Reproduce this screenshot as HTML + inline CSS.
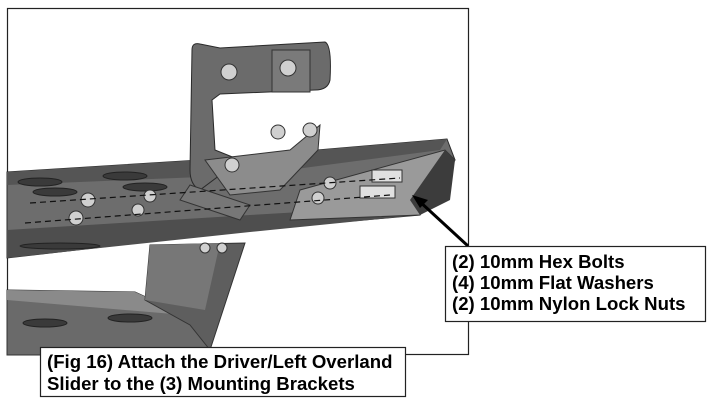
<!DOCTYPE html>
<html><head><style>
html,body{margin:0;padding:0;background:#fff;}
svg{display:block;}
text{font-family:"Liberation Sans",Arial,sans-serif;font-weight:bold;font-size:18.6px;fill:#000;}
</style></head><body>
<svg width="713" height="403" viewBox="0 0 713 403" xmlns="http://www.w3.org/2000/svg">
<rect x="0" y="0" width="713" height="403" fill="#fff"/>
<rect x="7.5" y="8.5" width="461" height="346" fill="#fff" stroke="#222" stroke-width="1.2"/>
<!-- lower step -->
<polygon points="7,290 135,292 185,315 210,330 210,355 7,355" fill="#6a6a6a" stroke="#333"/>
<polygon points="7,290 135,292 185,315 7,300" fill="#8a8a8a"/>
<polygon points="150,245 245,243 210,350 190,325 145,300" fill="#5e5e5e" stroke="#333"/>
<polygon points="150,245 220,243 205,310 145,300" fill="#777"/>
<!-- rail body -->
<polygon points="7,172 200,160 447,139 455,160 420,215 250,230 7,258" fill="#6d6d6d" stroke="#2a2a2a"/>
<polygon points="7,172 200,160 447,139 440,150 250,175 7,185" fill="#555"/>
<polygon points="7,230 250,215 420,205 420,215 250,232 7,258" fill="#4e4e4e"/>
<polygon points="300,190 445,150 455,160 420,215 290,220" fill="#9a9a9a" stroke="#333"/>
<polygon points="410,200 445,150 455,160 450,200 420,215" fill="#3c3c3c"/>
<!-- slots -->
<g fill="#3a3a3a" stroke="#222">
<ellipse cx="40" cy="182" rx="22" ry="4"/><ellipse cx="125" cy="176" rx="22" ry="4"/>
<ellipse cx="55" cy="192" rx="22" ry="4"/><ellipse cx="145" cy="187" rx="22" ry="4"/>
<ellipse cx="45" cy="323" rx="22" ry="4"/><ellipse cx="130" cy="318" rx="22" ry="4"/>
<ellipse cx="60" cy="246" rx="40" ry="3"/>
</g>
<!-- top bracket -->
<path d="M192,50 Q192,42 200,44 L220,48 L325,42 Q332,45 330,80 Q328,90 315,90 L220,94 L212,100 L215,150 L240,160 L200,190 Q190,185 190,170 Z" fill="#6b6b6b" stroke="#2a2a2a"/>
<rect x="272" y="50" width="38" height="42" fill="#7a7a7a" stroke="#333"/>
<polygon points="205,160 290,150 320,125 318,150 280,190 230,195" fill="#8c8c8c" stroke="#333"/>
<polygon points="190,185 250,205 240,220 180,200" fill="#777" stroke="#333"/>
<!-- bolts/washers -->
<g fill="#d0d0d0" stroke="#333">
<circle cx="229" cy="72" r="8"/><circle cx="288" cy="68" r="8"/>
<circle cx="278" cy="132" r="7"/><circle cx="310" cy="130" r="7"/>
<circle cx="232" cy="165" r="7"/>
<circle cx="88" cy="200" r="7"/><circle cx="76" cy="218" r="7"/>
<circle cx="150" cy="196" r="6"/><circle cx="138" cy="210" r="6"/>
<circle cx="330" cy="183" r="6"/><circle cx="318" cy="198" r="6"/>
<rect x="372" y="170" width="30" height="12" fill="#e0e0e0"/>
<rect x="360" y="186" width="35" height="12" fill="#e0e0e0"/>
<circle cx="205" cy="248" r="5"/><circle cx="222" cy="248" r="5"/>
</g>
<g stroke="#111" stroke-dasharray="6,4" stroke-width="1.2">
<line x1="30" y1="203" x2="400" y2="178"/><line x1="25" y1="223" x2="390" y2="195"/>
</g>
<!-- arrow -->
<line x1="468" y1="246" x2="418" y2="200" stroke="#000" stroke-width="3"/>
<polygon points="412,195 428,200 420,208" fill="#000"/>
<!-- label box -->
<rect x="445.5" y="246.5" width="260" height="75" fill="#fff" stroke="#222" stroke-width="1.2"/>
<text x="452" y="268">(2) 10mm Hex Bolts</text>
<text x="452" y="289">(4) 10mm Flat Washers</text>
<text x="452" y="310">(2) 10mm Nylon Lock Nuts</text>
<!-- caption -->
<rect x="40.5" y="347.5" width="365" height="49" fill="#fff" stroke="#222" stroke-width="1.2"/>
<text x="47" y="368">(Fig 16) Attach the Driver/Left Overland</text>
<text x="47" y="390">Slider to the (3) Mounting Brackets</text>
</svg>
</body></html>
